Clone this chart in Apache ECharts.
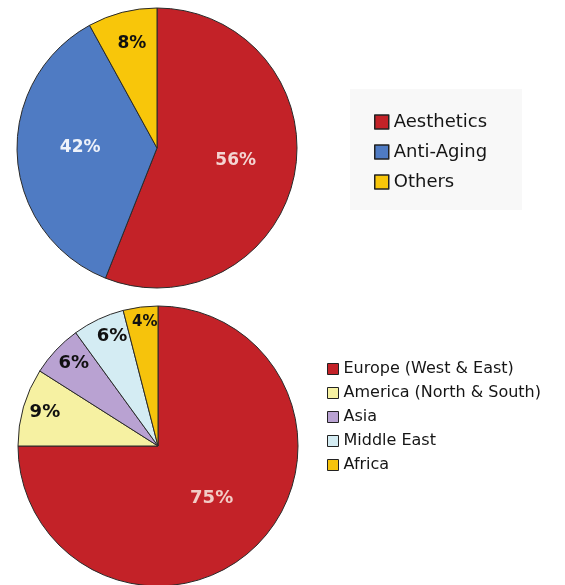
<!DOCTYPE html>
<html>
<head>
<meta charset="utf-8">
<script src="https://cdn.jsdelivr.net/npm/echarts@6/dist/echarts.min.js"></script>
<style>
html,body{margin:0;padding:0;background:#ffffff;}
#chart{width:565px;height:585px;}
</style>
</head>
<body>
<div id="chart"></div>
<script>
// Top pie: application areas (slice sizes as drawn; printed labels as shown)
const topCategories = ['Aesthetics', 'Anti-Aging', 'Others'];
const topValues = [56, 36, 8];
const topLabels = ['56%', '42%', '8%'];
const topColors = ['#c32228', '#4f7bc3', '#f8c60a'];

// Bottom pie: regions
const bottomCategories = ['Europe (West & East)', 'America (North & South)', 'Asia', 'Middle East', 'Africa'];
const bottomValues = [75, 9, 6, 6, 4];
const bottomLabels = ['75%', '9%', '6%', '6%', '4%'];
const bottomColors = ['#c32228', '#f6f1a2', '#b9a2d2', '#d4ecf3', '#f6c30c'];

const topLabelStyle = [
  {color: '#f4d4d2', offset: [7, -1]},
  {color: '#eef2fa', offset: [-4, -5]},
  {color: '#111111', offset: [-7, -34]}
];
const bottomLabelStyle = [
  {color: '#f2ccc6', offset: [2, 1]},
  {color: '#111111', offset: [-43, -13]},
  {color: '#111111', offset: [-31, -33]},
  {color: '#111111', offset: [-15, -44]},
  {color: '#111111', offset: [-4, -51], fontSize: 15}
];

const font = 'DejaVu Sans, Verdana, sans-serif';

const chart = echarts.init(document.getElementById('chart'));
chart.setOption({
  backgroundColor: '#ffffff',
  animation: false,
  graphic: [{
    type: 'rect', z: -10,
    shape: {x: 350, y: 89, width: 172, height: 121},
    style: {fill: '#f8f8f8'}
  }],
  legend: [{
    orient: 'vertical',
    left: 374, top: 112, padding: 0,
    itemWidth: 14, itemHeight: 14, itemGap: 10,
    icon: 'rect',
    itemStyle: {borderColor: '#222', borderWidth: 1.5},
    textStyle: {fontFamily: font, fontSize: 18, color: '#151515', lineHeight: 20},
    data: topCategories
  }, {
    orient: 'vertical',
    left: 327, top: 360, padding: 0,
    itemWidth: 11, itemHeight: 11, itemGap: 6,
    icon: 'rect',
    itemStyle: {borderColor: '#222', borderWidth: 1},
    textStyle: {fontFamily: font, fontSize: 16, color: '#151515', lineHeight: 18},
    data: bottomCategories
  }],
  series: [{
    type: 'pie',
    center: [157, 148],
    radius: 140,
    startAngle: 90,
    clockwise: true,
    silent: true,
    itemStyle: {borderColor: '#2a2a2a', borderWidth: 1},
    label: {position: 'inside', fontFamily: font, fontWeight: 'bold', fontSize: 17},
    labelLine: {show: false},
    data: topCategories.map((n, i) => ({
      name: n, value: topValues[i],
      itemStyle: {color: topColors[i]},
      label: Object.assign({formatter: topLabels[i]}, topLabelStyle[i])
    }))
  }, {
    type: 'pie',
    center: [158, 446],
    radius: 140,
    startAngle: 90,
    clockwise: true,
    silent: true,
    itemStyle: {borderColor: '#2a2a2a', borderWidth: 1},
    label: {position: 'inside', fontFamily: font, fontWeight: 'bold', fontSize: 18},
    labelLine: {show: false},
    data: bottomCategories.map((n, i) => ({
      name: n, value: bottomValues[i],
      itemStyle: {color: bottomColors[i]},
      label: Object.assign({formatter: bottomLabels[i]}, bottomLabelStyle[i])
    }))
  }]
});
</script>
</body>
</html>
